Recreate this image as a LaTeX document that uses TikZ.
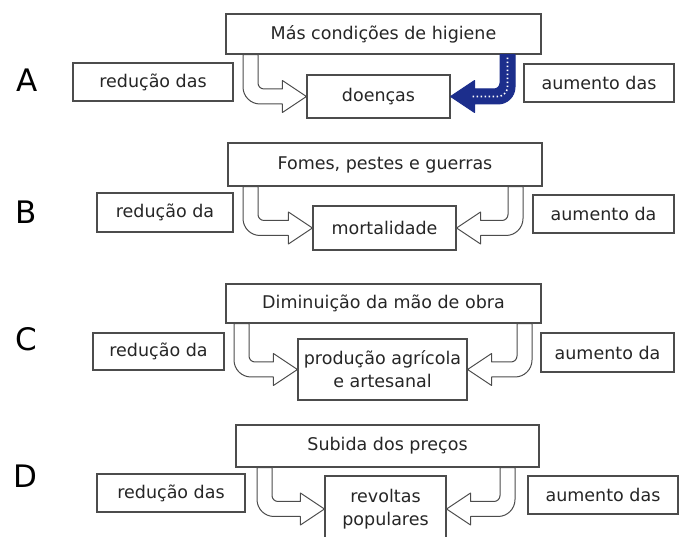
\documentclass[tikz,border=0pt]{standalone}
\usepackage{fontspec}
\setmainfont{DejaVu Sans}
\usetikzlibrary{calc}

\definecolor{boxline}{gray}{0.3}
\definecolor{arrowblue}{RGB}{28,46,140}

\tikzset{
  box/.style={draw=boxline, line width=1.1pt, fill=white, inner sep=0pt, align=center,
    text=black!85, font=\fontsize{17.5}{23}\selectfont},
  letter/.style={inner sep=0pt, font=\fontsize{31}{31}\selectfont},
  uarrow/.style={draw=boxline, line width=1pt, fill=white, line join=round},
  bluearrow/.style={draw=arrowblue, line width=1pt, fill=arrowblue, line join=round}
}

% #2 top node, #3 tip anchor, #4 outer x of the band, #5 direction (1 right, -1 left)
\newcommand{\bendarrow}[5][uarrow]{%
  \draw[#1] let \p1=(#2.south), \p2=(#3) in
    (\p2) -- ({\x2-(#5)*24},{\y2+16}) -- ({\x2-(#5)*24},{\y2+7.5})
    -- ({#4+(#5)*15+(#5)*6},{\y2+7.5})
    arc[start angle=270, end angle={270-(#5)*90}, radius=6]
    -- ({#4+(#5)*15},\y1) -- (#4,\y1) -- (#4,{\y2-7.5+17})
    arc[start angle={90+(#5)*90}, end angle={90+(#5)*180}, radius=17]
    -- ({\x2-(#5)*24},{\y2-7.5}) -- ({\x2-(#5)*24},{\y2-16}) -- cycle;}

\begin{document}
\begin{tikzpicture}[x=1pt,y=1pt]
  \useasboundingbox (0,0) rectangle (682,537);
  \clip (0,0) rectangle (682,537);

  \node[letter] (letA) at (27,457) {A};
  \node[box, minimum width=315, minimum height=40] (tA) at (383.5,503) {Más condições de higiene};
  \node[box, minimum width=143, minimum height=43] (mA) at (378.5,440.5) {doenças};
  \node[box, minimum width=160, minimum height=38] (lA) at (153,455) {redução das};
  \node[box, minimum width=150, minimum height=38] (rA) at (599,454) {aumento das};

  \node[letter] (letB) at (26,325) {B};
  \node[box, minimum width=314, minimum height=43] (tB) at (385,372.5) {Fomes, pestes e guerras};
  \node[box, minimum width=143, minimum height=44] (mB) at (384.5,309) {mortalidade};
  \node[box, minimum width=136, minimum height=39] (lB) at (165,324.5) {redução da};
  \node[box, minimum width=141, minimum height=38] (rB) at (603.5,323) {aumento da};

  \node[letter] (letC) at (26,198) {C};
  \node[box, minimum width=315, minimum height=39] (tC) at (383.5,233.5) {Diminuição da mão de obra};
  \node[box, minimum width=169, minimum height=61] (mC) at (382.5,167.5) {produção agrícola\\e artesanal};
  \node[box, minimum width=131, minimum height=37] (lC) at (158.5,185.5) {redução da};
  \node[box, minimum width=133, minimum height=39] (rC) at (607.5,184.5) {aumento da};

  \node[letter] (letD) at (25,61) {D};
  \node[box, minimum width=303, minimum height=42] (tD) at (387.5,91) {Subida dos preços};
  \node[box, minimum width=121, minimum height=66] (mD) at (385.5,28) {revoltas\\populares};
  \node[box, minimum width=148, minimum height=38] (lD) at (171,44) {redução das};
  \node[box, minimum width=150, minimum height=38] (rD) at (603,42) {aumento das};

  \bendarrow{tA}{mA.west}{243}{1}
  \bendarrow[bluearrow]{tA}{mA.east}{515}{-1}
  \draw[white, line width=1.6pt, dash pattern=on 1.5pt off 2.5pt]
    let \p1=(tA.south), \p2=(mA.east) in
    (507.5,{\y1-3}) [rounded corners=10pt] -- (507.5,\y2) -- ({\x2+20},\y2);
  \bendarrow{tB}{mB.west}{243}{1}
  \bendarrow{tB}{mB.east}{523}{-1}
  \bendarrow{tC}{mC.west}{234}{1}
  \bendarrow{tC}{mC.east}{532}{-1}
  \bendarrow{tD}{mD.west}{257}{1}
  \bendarrow{tD}{mD.east}{515}{-1}
\end{tikzpicture}
\end{document}
